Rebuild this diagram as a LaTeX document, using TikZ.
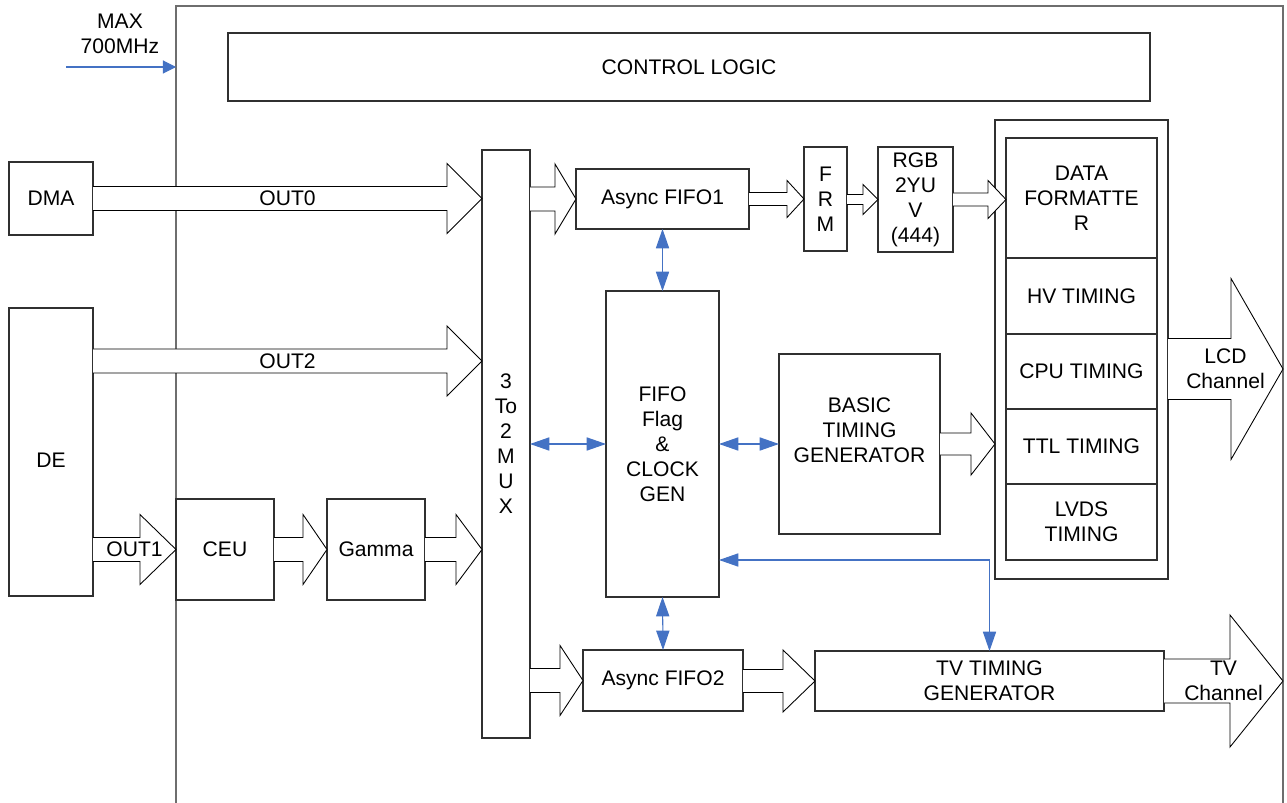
\documentclass[tikz,border=0pt]{standalone}
\usepackage{fontspec}
\setmainfont{Liberation Sans}
\usetikzlibrary{calc,arrows.meta,positioning}
\definecolor{linkc}{HTML}{4472C4}
\definecolor{framec}{HTML}{6E6E6E}
\definecolor{boxc}{HTML}{303030}
\tikzset{
  blk/.style 2 args={draw=boxc, line width=0.7pt, fill=white, minimum width=#1*0.02cm, minimum height=#2*0.02cm, inner sep=0pt, outer sep=0pt, align=center},
  chip/.style={draw=framec, line width=1.2pt},
  hollow/.style={draw=black, line width=0.5pt, fill=white, line join=miter},
  link/.style={draw=linkc, line width=0.6pt, {Triangle[length=11pt,width=7.5pt]}-{Triangle[length=11pt,width=7.5pt]}},
  clk/.style={draw=linkc, line width=0.6pt, -{Triangle[length=7.5pt,width=7.5pt]}},
  txt/.style={align=center, inner sep=0pt},
}
\newcommand{\fatarrow}[6]{%
  \draw[hollow] ($(#1|-#2)+(0,#3)$) -- ($(#2)+(-#5,#3)$) -- ($(#2)+(-#5,#4)$) -- (#2) -- ($(#2)+(-#5,-#4)$) -- ($(#2)+(-#5,-#3)$) -- ($(#1|-#2)+(0,-#3)$);
  \node[txt] at ($(#1|-#2)!0.5!(#2)$) {#6};}

\begin{document}
\begin{tikzpicture}[x=0.02cm, y=-0.02cm, every node/.style={font=\fontsize{12}{14.2}\selectfont}]
\useasboundingbox (0,0) rectangle (1287,803);
\clip (0,0) rectangle (1287,803);
\coordinate (chipsw) at (176,803);
\coordinate (chipnw) at (176,6);
\coordinate (chipne) at (1283,6);
\coordinate (chipse) at (1283,803);
\draw[chip] (chipsw) -- (chipnw) -- (chipne) -- (chipse);
\node[txt] (maxclk) at (120,34) {MAX\\700MHz};
\coordinate (clk) at (66,67);
\draw[clk] (clk) -- (chipnw|-clk);

\node[blk={922}{68}] (ctrl) at (689,67) {CONTROL LOGIC};
\node[blk={84}{73}] (dma) at (51,198.5) {DMA};
\node[blk={84}{288}] (de) at (51,452) {};
\node[txt] (detxt) at (51,460) {DE};
\node[blk={48}{588}] (mux) at (506,444) {3\\To\\2\\M\\U\\X};
\node[blk={98}{101}] (ceu) at (225,549.5) {CEU};
\node[blk={98}{101}] (gamma) at (376,549.5) {Gamma};
\node[blk={173}{60}] (fifoa) at (662.5,199) {Async FIFO1};
\node[blk={43}{104}] (frm) at (825.5,199) {F\\R\\M};
\node[blk={75}{105}] (rgb) at (915.5,199.5) {RGB\\2YU\\V\\(444)};
\node[blk={113}{306}] (gen) at (662.5,444) {FIFO\\Flag\\\&\\CLOCK\\GEN};
\node[blk={161}{180}] (basic) at (859.5,444) {};
\node[txt] (basictxt) at ([yshift=8pt]basic.center) {BASIC\\TIMING\\GENERATOR};
\node[blk={160}{61}] (fifob) at (663,680.5) {Async FIFO2};
\node[blk={349}{60}] (tv) at (989.5,681) {TV TIMING\\GENERATOR};

\node[blk={173}{459}] (outer) at (1081.5,349.5) {};
\node[blk={151}{120}] (data) at (1081.5,198) {DATA\\FORMATTE\\R};
\node[blk={151}{76}, below=0pt of data] (hv) {HV TIMING};
\node[blk={151}{75}, below=0pt of hv] (cpu) {CPU TIMING};
\node[blk={151}{75}, below=0pt of cpu] (ttl) {TTL TIMING};
\node[blk={151}{76}, below=0pt of ttl] (lvds) {LVDS\\TIMING};

\coordinate (t0) at (mux.west|-dma);
\coordinate (t2) at (482,361);
\coordinate (tg) at (mux.west|-gamma);
\coordinate (tdata) at (data.west|-rgb);
\coordinate (tbasic) at (outer.west|-basic);
\coordinate (lcd) at (chipne|-0,369);
\coordinate (tvch) at (chipne|-0,681);

\fatarrow{dma.east}{t0}{12}{35}{35}{OUT0}
\fatarrow{de.east}{t2}{12}{35}{35}{OUT2}
\fatarrow{de.east}{ceu.west}{12}{35}{36}{OUT1}
\fatarrow{ceu.east}{gamma.west}{12}{35}{24}{}
\fatarrow{gamma.east}{tg}{12}{35}{26}{}
\fatarrow{mux.east}{fifoa.west}{12}{35}{21}{}
\fatarrow{fifoa.east}{frm.west}{6.5}{18.5}{17}{}
\fatarrow{frm.east}{rgb.west}{5}{15}{15}{}
\fatarrow{rgb.east}{tdata}{6.5}{19}{18}{}
\fatarrow{basic.east}{tbasic}{11}{31}{24}{}
\fatarrow{outer.east}{lcd}{30.5}{90.5}{52}{LCD\\Channel}
\fatarrow{mux.east}{fifob.west}{12}{35}{23}{}
\fatarrow{fifob.east}{tv.west}{11.5}{31}{32}{}
\fatarrow{tv.east}{tvch}{22}{66}{53}{TV\\Channel}

\draw[link] (mux.east|-gen) -- (gen.west);
\draw[link] (fifoa.south) -- (gen.north);
\draw[link] (gen.east) -- (basic.west);
\draw[link] (gen.south) -- (fifob.north);
\coordinate (gt) at (719,560);
\draw[link] (gt) -| (tv.north);
\end{tikzpicture}
\end{document}
